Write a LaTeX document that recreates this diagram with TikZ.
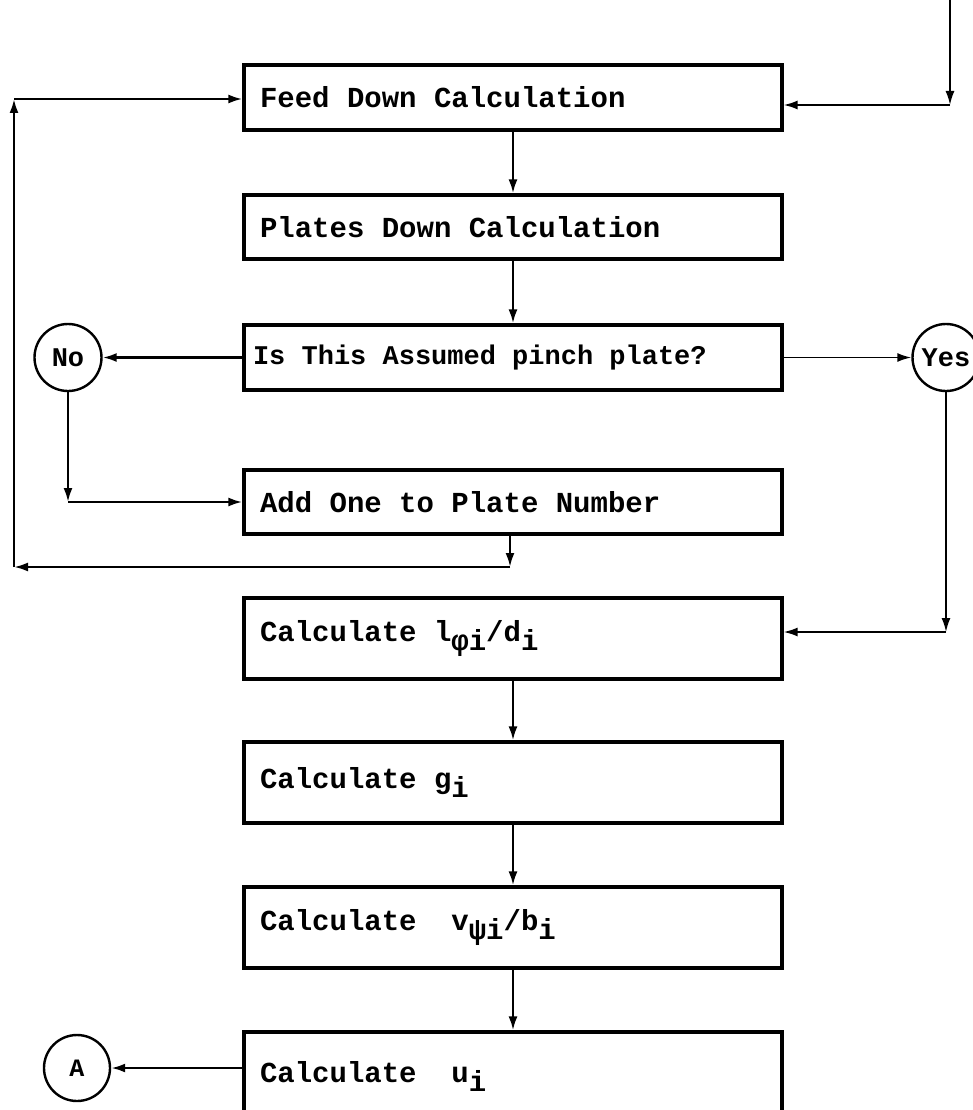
\documentclass[tikz,border=0pt]{standalone}
\usepackage{fontspec}
\setmonofont{Liberation Mono}
\usetikzlibrary{arrows.meta,positioning,calc}
\newcommand\lowsub[1]{\raisebox{-9pt}{#1}}
\newcommand\wsp{\spaceskip=0.6em\xspaceskip=0.6em\relax}
\newcommand\boxfont{\ttfamily\bfseries\fontsize{29}{34}\selectfont}
\newcommand\smallboxfont{\ttfamily\bfseries\fontsize{27}{32}\selectfont}
\newcommand\circfont{\ttfamily\bfseries\fontsize{27}{30}\selectfont}
\newcommand\afont{\ttfamily\bfseries\fontsize{25}{28}\selectfont}
\tikzset{
  boxnode/.style={draw, line width=3.2pt, minimum width=538pt, text width=506pt,
    inner xsep=16pt, inner ysep=0pt, align=left, font=\boxfont,
    execute at begin node=\wsp},
  circnode/.style={draw, circle, line width=2.4pt, minimum size=67pt, inner sep=0pt,
    font=\circfont},
  conn/.style={line width=2.4pt, -{Latex[length=14pt,width=9pt]}},
  thinconn/.style={line width=1.8pt, -{Latex[length=14pt,width=9pt]}}
}
\begin{document}
\begin{tikzpicture}[x=1pt,y=-1pt]
\useasboundingbox (0,0) rectangle (973,1110);
\begin{scope}
\clip (0,0) rectangle (973,1110);
% boxes
\node[boxnode, minimum height=65pt] (feed)   at (513,97.5)  {\raisebox{-2pt}{Feed Down Calculation}};
\node[boxnode, minimum height=64pt] (plates) at (513,227)   {\raisebox{-2pt}{Plates Down Calculation}};
\node[boxnode, minimum height=65pt, inner xsep=9pt, text width=520pt, font=\smallboxfont] (isthis) at (513,357.5) {\raisebox{-2pt}{Is This Assumed pinch plate?}};
\node[boxnode, minimum height=64pt] (addone) at (513,502)   {Add One to Plate Number};
\node[boxnode, minimum height=81pt] (calcl)  at (513,638.5) {\raisebox{-7pt}{Calculate l\lowsub{φi}/d\lowsub{i}}};
\node[boxnode, minimum height=81pt] (calcg)  at (513,782.5) {\raisebox{-5pt}{Calculate g\lowsub{i}}};
\node[boxnode, minimum height=81pt] (calcv)  at (513,927.5) {\raisebox{5pt}{Calculate\ \ v\lowsub{ψi}/b\lowsub{i}}};
\node[boxnode, minimum height=92pt] (calcu)  at (513,1078)  {\raisebox{13pt}{Calculate\ \ u\lowsub{i}}};
% circles
\node[circnode] (no)  at (68,357.5)  {No};
\node[circnode] (yes) at (946,357.5) {Yes};
\node[circnode, minimum size=66pt, font=\afont] (A) at (77,1068) {A};
% corner coordinates
\coordinate (in0) at (950,0);
\coordinate (in1) at (950,105);
\coordinate (c1) at (no.south |- addone.west);
\coordinate (c2) at (510,567);
\coordinate (c3) at (14,567);
\coordinate (c4) at (14,99);
\coordinate (c5) at (yes.south |- 0,632);
% connectors
\draw[thinconn] (in0) -- (in1);
\draw[thinconn] (in1) -- (in1 -| feed.east);
\draw[conn] (feed.south) -- (plates.north);
\draw[conn] (plates.south) -- (isthis.north);
\draw[conn] (isthis.west) -- (no.east);
\draw[thinconn] (isthis.east) -- (yes.west);
\draw[conn] (no.south) -- (c1);
\draw[conn] (c1) -- (addone.west);
\draw[conn] (c2 |- addone.south) -- (c2);
\draw[conn] (c2) -- (c3);
\draw[conn] (c3) -- (c4);
\draw[conn] (c4) -- (c4 -| feed.west);
\draw[thinconn] (yes.south) -- (c5);
\draw[thinconn] (c5) -- (c5 -| calcl.east);
\draw[conn] (calcl.south) -- (calcg.north);
\draw[conn] (calcg.south) -- (calcv.north);
\draw[conn] (calcv.south) -- (calcu.north);
\draw[conn] (calcu.west |- A.east) -- (A.east);
\end{scope}
\end{tikzpicture}
\end{document}
